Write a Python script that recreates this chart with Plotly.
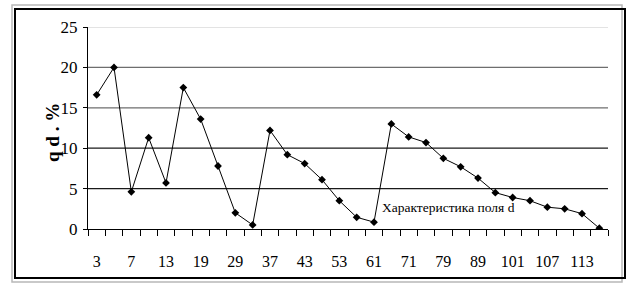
import plotly.graph_objects as go

categories = ["3", "5", "7", "11", "13", "17", "19", "23", "29", "31", "37", "41", "43", "47", "53",
              "59", "61", "67", "71", "73", "79", "83", "89", "97", "101", "103", "107", "109", "113", "127"]
values = [16.6, 20.0, 4.6, 11.3, 5.7, 17.5, 13.6, 7.8, 2.0, 0.5, 12.2, 9.2, 8.1, 6.1, 3.5,
          1.45, 0.85, 13.0, 11.4, 10.7, 8.75, 7.7, 6.3, 4.5, 3.9, 3.5, 2.7, 2.5, 1.9, 0.1]
y_ticks = [0, 5, 10, 15, 20, 25]
grid_colors = {5: "#1a1a1a", 10: "#1a1a1a", 15: "#6e6e6e", 20: "#6e6e6e", 25: "#c8c8c8"}

xpos = list(range(len(categories)))
label_pos = xpos[::2]
label_text = categories[::2]

FONT = "Liberation Serif"

fig = go.Figure()
fig.add_trace(go.Scatter(
    x=xpos, y=values, mode="lines+markers",
    line=dict(color="black", width=1),
    marker=dict(symbol="diamond", size=6, color="black"),
    showlegend=False, hoverinfo="skip",
))

shapes = []
for v in y_ticks[1:]:
    shapes.append(dict(type="line", xref="paper", yref="y", x0=0, x1=1, y0=v, y1=v,
                       line=dict(color=grid_colors[v], width=1.2), layer="below"))

L, R, T, B = 88, 21, 27, 57
W, H = 629, 286
pw, ph = W - L - R, H - T - B

def px(xp):
    return (xp - L) / pw

def py(yp):
    return (H - B - yp) / ph

# outer gray border and black frame
shapes.append(dict(type="rect", xref="paper", yref="paper", x0=px(12), x1=px(622), y0=py(282), y1=py(5),
                   line=dict(color="#b8b8b8", width=1.5), layer="below"))
shapes.append(dict(type="rect", xref="paper", yref="paper", x0=px(15), x1=px(625), y0=py(278), y1=py(9),
                   line=dict(color="black", width=2), layer="below"))

fig.update_layout(
    width=W, height=H,
    margin=dict(l=L, r=R, t=T, b=B, pad=0),
    paper_bgcolor="white", plot_bgcolor="white",
    font=dict(family=FONT, color="black", size=14),
    shapes=shapes,
    xaxis=dict(
        range=[-0.5, len(categories) - 0.5],
        tickmode="array", tickvals=label_pos, ticktext=label_text,
        ticks="", showgrid=False, zeroline=False,
        showline=True, linecolor="black", linewidth=1,
        ticklabelstandoff=18,
        tickfont=dict(family=FONT, size=16),
        minor=dict(tick0=-0.5, dtick=1, ticks="outside", ticklen=6, tickcolor="black", tickwidth=1, showgrid=False),
    ),
    yaxis=dict(
        range=[0, 25], tickvals=y_ticks,
        ticks="outside", ticklen=4, tickcolor="black",
        showgrid=False, zeroline=False,
        showline=True, linecolor="black", linewidth=1,
        ticklabelstandoff=2,
        tickfont=dict(family=FONT, size=17),
    ),
    annotations=[
        dict(text="<b>q d . %</b>", xref="paper", yref="paper", x=px(52), y=py(133),
             textangle=-90, showarrow=False, font=dict(family=FONT, size=19),
             xanchor="center", yanchor="middle"),
        dict(text="Характеристика поля d", xref="paper", yref="paper", x=px(448), y=py(207),
             showarrow=False, font=dict(family=FONT, size=13.5),
             xanchor="center", yanchor="middle"),
    ],
)

fig.write_html("out.html", config={"displayModeBar": False},
               post_script="document.body.style.margin='0';document.body.style.padding='0';")
